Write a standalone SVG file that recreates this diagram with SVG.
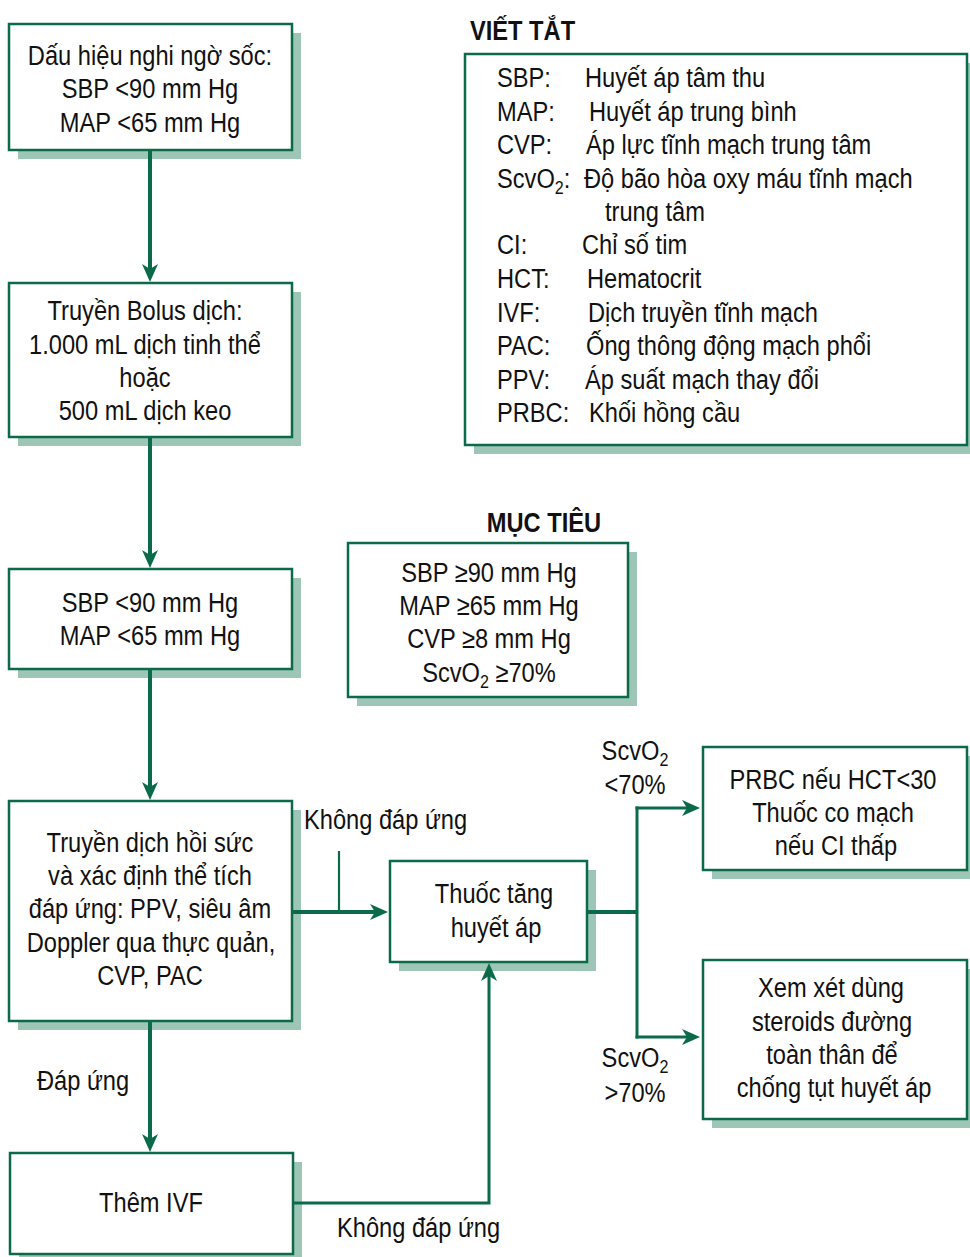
<svg xmlns="http://www.w3.org/2000/svg" width="970" height="1257" viewBox="0 0 970 1257">
  <style>
    .box { fill: #ffffff; stroke: #0b6a4a; stroke-width: 2.5; }
    .shadow { fill: #9dc6b7; }
    .wire { fill: none; stroke: #0b6a4a; stroke-linejoin: miter; stroke-linecap: butt; }
    .w4 { stroke-width: 4; }
    .w3 { stroke-width: 3; }
    .w2 { stroke-width: 2.2; }
    text {
      font-family: "Liberation Sans", Arial, Helvetica, sans-serif;
      font-size: 28px;
      fill: #111111;
      transform: scaleX(0.845);
      transform-box: fill-box;
      transform-origin: 50% 50%;
    }
    .c { text-anchor: middle; }
    .l { text-anchor: start; transform-origin: 0 50%; }
    .title { font-weight: bold; }
    .sub { font-size: 19px; }
  </style>
  <defs>
    <marker id="arrow" markerUnits="userSpaceOnUse" markerWidth="18" markerHeight="16" viewBox="0 0 18 16" refX="8" refY="8" orient="auto">
      <path d="M18,8 L0,0 L5,8 L0,16 Z" fill="#0b6a4a"/>
    </marker>
  </defs>

  <!-- node 1 -->
  <g id="n-suspect">
    <rect class="shadow" x="18" y="33" width="283" height="126"/>
    <rect class="box" x="9" y="24" width="283" height="126"/>
    <text class="c" x="150" y="65">Dấu hiệu nghi ngờ sốc:</text>
    <text class="c" x="150" y="98">SBP &lt;90 mm Hg</text>
    <text class="c" x="150" y="132">MAP &lt;65 mm Hg</text>
  </g>

  <!-- node 2 -->
  <g id="n-bolus">
    <rect class="shadow" x="18" y="292" width="283" height="154"/>
    <rect class="box" x="9" y="283" width="283" height="154"/>
    <text class="c" x="145" y="320">Truyền Bolus dịch:</text>
    <text class="c" x="145" y="354">1.000 mL dịch tinh thể</text>
    <text class="c" x="145" y="387">hoặc</text>
    <text class="c" x="145" y="420">500 mL dịch keo</text>
  </g>

  <!-- node 3 -->
  <g id="n-still-low">
    <rect class="shadow" x="18" y="578" width="283" height="100"/>
    <rect class="box" x="9" y="569" width="283" height="100"/>
    <text class="c" x="150" y="612">SBP &lt;90 mm Hg</text>
    <text class="c" x="150" y="645">MAP &lt;65 mm Hg</text>
  </g>

  <!-- node 4 -->
  <g id="n-resus">
    <rect class="shadow" x="18" y="810" width="283" height="220"/>
    <rect class="box" x="9" y="801" width="283" height="220"/>
    <text class="c" x="150" y="852">Truyền dịch hồi sức</text>
    <text class="c" x="150" y="885">và xác định thể tích</text>
    <text class="c" x="150" y="918">đáp ứng: PPV, siêu âm</text>
    <text class="c" x="151" y="952">Doppler qua thực quản,</text>
    <text class="c" x="150" y="985">CVP, PAC</text>
  </g>

  <!-- node 5 -->
  <g id="n-ivf">
    <rect class="shadow" x="19" y="1162" width="283" height="101"/>
    <rect class="box" x="10" y="1153" width="283" height="101"/>
    <text class="c" x="151" y="1212">Thêm IVF</text>
  </g>

  <!-- vasopressor node -->
  <g id="n-vaso">
    <rect class="shadow" x="399" y="870" width="197" height="101"/>
    <rect class="box" x="390" y="861" width="197" height="101"/>
    <text class="c" x="494" y="903">Thuốc tăng</text>
    <text class="c" x="496" y="937">huyết áp</text>
  </g>

  <!-- low ScvO2 branch node -->
  <g id="n-prbc">
    <rect class="shadow" x="712" y="756" width="264" height="123"/>
    <rect class="box" x="703" y="747" width="264" height="123"/>
    <text class="c" x="833" y="789">PRBC nếu HCT&lt;30</text>
    <text class="c" x="833" y="822">Thuốc co mạch</text>
    <text class="c" x="836" y="855">nếu CI thấp</text>
  </g>

  <!-- high ScvO2 branch node -->
  <g id="n-steroids">
    <rect class="shadow" x="712" y="969" width="264" height="159"/>
    <rect class="box" x="703" y="960" width="264" height="159"/>
    <text class="c" x="831" y="997">Xem xét dùng</text>
    <text class="c" x="832" y="1031">steroids đường</text>
    <text class="c" x="832" y="1064">toàn thân để</text>
    <text class="c" x="834" y="1097">chống tụt huyết áp</text>
  </g>

  <!-- goals panel -->
  <g id="n-goals">
    <text class="c title" x="544" y="532">MỤC TIÊU</text>
    <rect class="shadow" x="357" y="552" width="280" height="154"/>
    <rect class="box" x="348" y="543" width="280" height="154"/>
    <text class="c" x="489" y="582">SBP ≥90 mm Hg</text>
    <text class="c" x="489" y="615">MAP ≥65 mm Hg</text>
    <text class="c" x="489" y="648">CVP ≥8 mm Hg</text>
    <text class="c" x="489" y="682">ScvO<tspan class="sub" dy="6">2</tspan><tspan dy="-6"> ≥70%</tspan></text>
  </g>

  <!-- abbreviations panel -->
  <g id="n-abbrev">
    <text class="l title" x="470" y="40">VIẾT TẮT</text>
    <rect class="shadow" x="474" y="63" width="502" height="391"/>
    <rect class="box" x="465" y="54" width="502" height="391"/>
    <text class="l" x="497" y="87">SBP:</text>
    <text class="l" x="585" y="87">Huyết áp tâm thu</text>
    <text class="l" x="497" y="121">MAP:</text>
    <text class="l" x="589" y="121">Huyết áp trung bình</text>
    <text class="l" x="497" y="154">CVP:</text>
    <text class="l" x="586" y="154">Áp lực tĩnh mạch trung tâm</text>
    <text class="l" x="497" y="188">ScvO<tspan class="sub" dy="6">2</tspan><tspan dy="-6">:</tspan></text>
    <text class="l" x="584" y="188">Độ bão hòa oxy máu tĩnh mạch</text>
    <text class="l" x="605" y="221">trung tâm</text>
    <text class="l" x="497" y="254">CI:</text>
    <text class="l" x="582" y="254">Chỉ số tim</text>
    <text class="l" x="497" y="288">HCT:</text>
    <text class="l" x="587" y="288">Hematocrit</text>
    <text class="l" x="497" y="322">IVF:</text>
    <text class="l" x="588" y="322">Dịch truyền tĩnh mạch</text>
    <text class="l" x="497" y="355">PAC:</text>
    <text class="l" x="586" y="355">Ống thông động mạch phổi</text>
    <text class="l" x="497" y="389">PPV:</text>
    <text class="l" x="585" y="389">Áp suất mạch thay đổi</text>
    <text class="l" x="497" y="422">PRBC:</text>
    <text class="l" x="589" y="422">Khối hồng cầu</text>
  </g>

  <!-- connectors, drawn over the drop shadows -->
  <g id="connectors">
    <line class="wire w4" x1="150" y1="150" x2="150" y2="272" marker-end="url(#arrow)"/>
    <line class="wire w4" x1="150" y1="437" x2="150" y2="558" marker-end="url(#arrow)"/>
    <line class="wire w4" x1="150" y1="669" x2="150" y2="790" marker-end="url(#arrow)"/>
    <line class="wire w4" x1="150" y1="1021" x2="150" y2="1142" marker-end="url(#arrow)"/>
    <line class="wire w4" x1="292" y1="912" x2="378" y2="912" marker-end="url(#arrow)"/>
    <line class="wire w2" x1="339" y1="851" x2="339" y2="912"/>
    <line class="wire w4" x1="587" y1="912" x2="637" y2="912"/>
    <line class="wire w3" x1="637" y1="806.5" x2="637" y2="1038.5"/>
    <line class="wire w3" x1="635.5" y1="808" x2="690" y2="808" marker-end="url(#arrow)"/>
    <line class="wire w3" x1="635.5" y1="1037" x2="690" y2="1037" marker-end="url(#arrow)"/>
    <path class="wire w3" d="M292,1203 H489 V973" marker-end="url(#arrow)"/>
  </g>

  <!-- connector labels -->
  <g id="labels">
    <text class="l" x="304" y="829">Không đáp ứng</text>
    <text class="l" x="337" y="1237">Không đáp ứng</text>
    <text class="l" x="37" y="1090">Đáp ứng</text>
    <text class="c" x="635" y="760">ScvO<tspan class="sub" dy="6">2</tspan></text>
    <text class="c" x="635" y="794">&lt;70%</text>
    <text class="c" x="635" y="1067">ScvO<tspan class="sub" dy="6">2</tspan></text>
    <text class="c" x="635" y="1102">&gt;70%</text>
  </g>
</svg>
